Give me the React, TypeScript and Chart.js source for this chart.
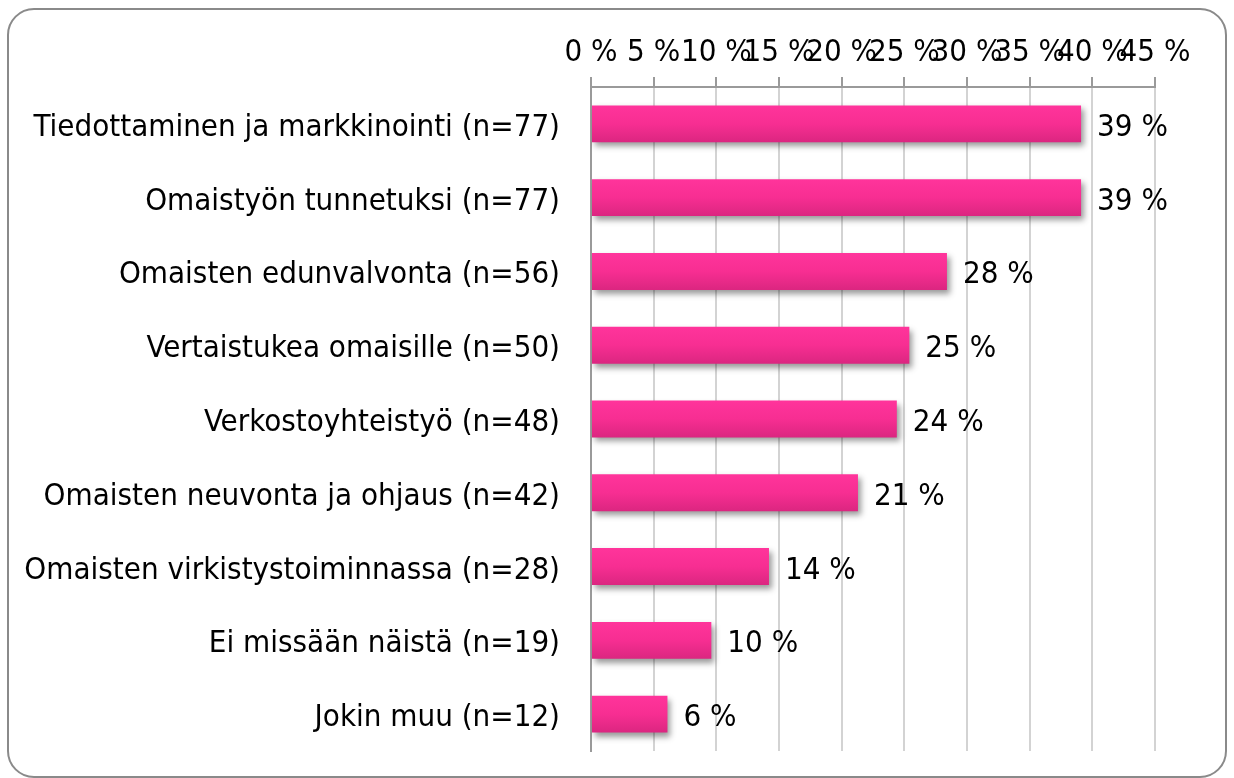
import React, { useEffect, useRef } from "react";
import { Chart, registerables } from "chart.js";

Chart.register(...registerables);

const categories = [
  "Tiedottaminen ja markkinointi (n=77)",
  "Omaistyön tunnetuksi (n=77)",
  "Omaisten edunvalvonta (n=56)",
  "Vertaistukea omaisille (n=50)",
  "Verkostoyhteistyö (n=48)",
  "Omaisten neuvonta ja ohjaus (n=42)",
  "Omaisten virkistystoiminnassa (n=28)",
  "Ei missään näistä (n=19)",
  "Jokin muu (n=12)",
];
const values = [39.1, 39.1, 28.4, 25.4, 24.4, 21.3, 14.2, 9.6, 6.1];
const valueLabels = ["39 %", "39 %", "28 %", "25 %", "24 %", "21 %", "14 %", "10 %", "6 %"];
const tickValues = [0, 5, 10, 15, 20, 25, 30, 35, 40, 45];

const FONT = "'DejaVu Sans Condensed', 'DejaVu Sans', sans-serif";
const FONT_SIZE = 31;

const frame = {
  id: "frame",
  afterDraw(chart: any) {
    const ctx = chart.ctx;
    ctx.save();
    ctx.strokeStyle = "#8a8a8a";
    ctx.lineWidth = 2;
    ctx.beginPath();
    ctx.roundRect(8, 9, 1218, 768, 26);
    ctx.stroke();
    ctx.restore();
  },
};

const shadow = {
  id: "barShadow",
  beforeDatasetDraw(chart: any) {
    const ctx = chart.ctx;
    ctx.save();
    ctx.shadowColor = "rgba(0,0,0,0.4)";
    ctx.shadowBlur = 6;
    ctx.shadowOffsetX = 3;
    ctx.shadowOffsetY = 4;
  },
  afterDatasetDraw(chart: any) {
    chart.ctx.restore();
  },
};

const textLabels = {
  id: "textLabels",
  afterDatasetsDraw(chart: any) {
    const ctx = chart.ctx;
    const meta = chart.getDatasetMeta(0);
    const ys = chart.scales.y;
    ctx.save();
    ctx.font = `${FONT_SIZE}px ${FONT}`;
    ctx.fillStyle = "#000";
    ctx.textBaseline = "middle";
    meta.data.forEach((bar: any, i: number) => {
      ctx.textAlign = "left";
      ctx.fillText(valueLabels[i], bar.x + 16, bar.y + 4);
      ctx.textAlign = "right";
      ctx.fillText(String(chart.data.labels[i]), ys.right - 31, ys.getPixelForValue(i) + 4);
    });
    ctx.restore();
  },
};

export default function App() {
  const ref = useRef<HTMLCanvasElement>(null);
  useEffect(() => {
    if (!ref.current) return;
    const chart = new Chart(ref.current, {
      type: "bar",
      data: {
        labels: categories,
        datasets: [
          {
            data: values,
            barPercentage: 0.5,
            categoryPercentage: 1.0,
            backgroundColor: (c: any) => {
              const ch = c.chart;
              const ys = ch.scales?.y;
              if (!ys || !ch.chartArea) return "#f5308f";
              const yc = ys.getPixelForValue(c.dataIndex);
              const h = (ch.chartArea.bottom - ch.chartArea.top) / categories.length / 2;
              const g = ch.ctx.createLinearGradient(0, yc - h / 2, 0, yc + h / 2);
              g.addColorStop(0, "#ff349b");
              g.addColorStop(0.5, "#f72e92");
              g.addColorStop(1, "#db2680");
              return g;
            },
            borderWidth: 0,
          },
        ],
      },
      options: {
        indexAxis: "y",
        responsive: false,
        animation: false,
        maintainAspectRatio: false,
        layout: { padding: { left: 0, right: 79, top: 0, bottom: 27 } },
        plugins: { legend: { display: false }, tooltip: { enabled: false } },
        scales: {
          x: {
            position: "top",
            min: 0,
            max: 45,
            afterBuildTicks: (s: any) => {
              s.ticks = tickValues.map((v) => ({ value: v }));
            },
            afterFit: (s: any) => {
              s.height = 87;
            },
            ticks: {
              autoSkip: false,
              maxRotation: 0,
              minRotation: 0,
              padding: 5,
              color: "#000",
              font: { family: FONT, size: FONT_SIZE },
              callback: (v: any) => `${v} %`,
            },
            grid: {
              color: "#d3d3d3",
              lineWidth: 2,
              tickColor: "#9a9a9a",
              tickLength: 10,
              drawTicks: true,
            },
            border: { display: true, color: "#9a9a9a", width: 2 },
          },
          y: {
            afterFit: (s: any) => {
              s.width = 591;
              s.paddingTop = 0;
              s.paddingBottom = 0;
            },
            ticks: { display: false },
            grid: { display: false, drawTicks: false },
            border: { display: true, color: "#9a9a9a", width: 2 },
          },
        },
      },
      plugins: [shadow, textLabels, frame],
    } as any);
    return () => chart.destroy();
  }, []);
  return (
    <div style={{ position: "fixed", left: 0, top: 0, width: 1234, height: 778, background: "#fff" }}>
      <canvas ref={ref} width={1234} height={778} style={{ display: "block", width: 1234, height: 778 }} />
    </div>
  );
}
